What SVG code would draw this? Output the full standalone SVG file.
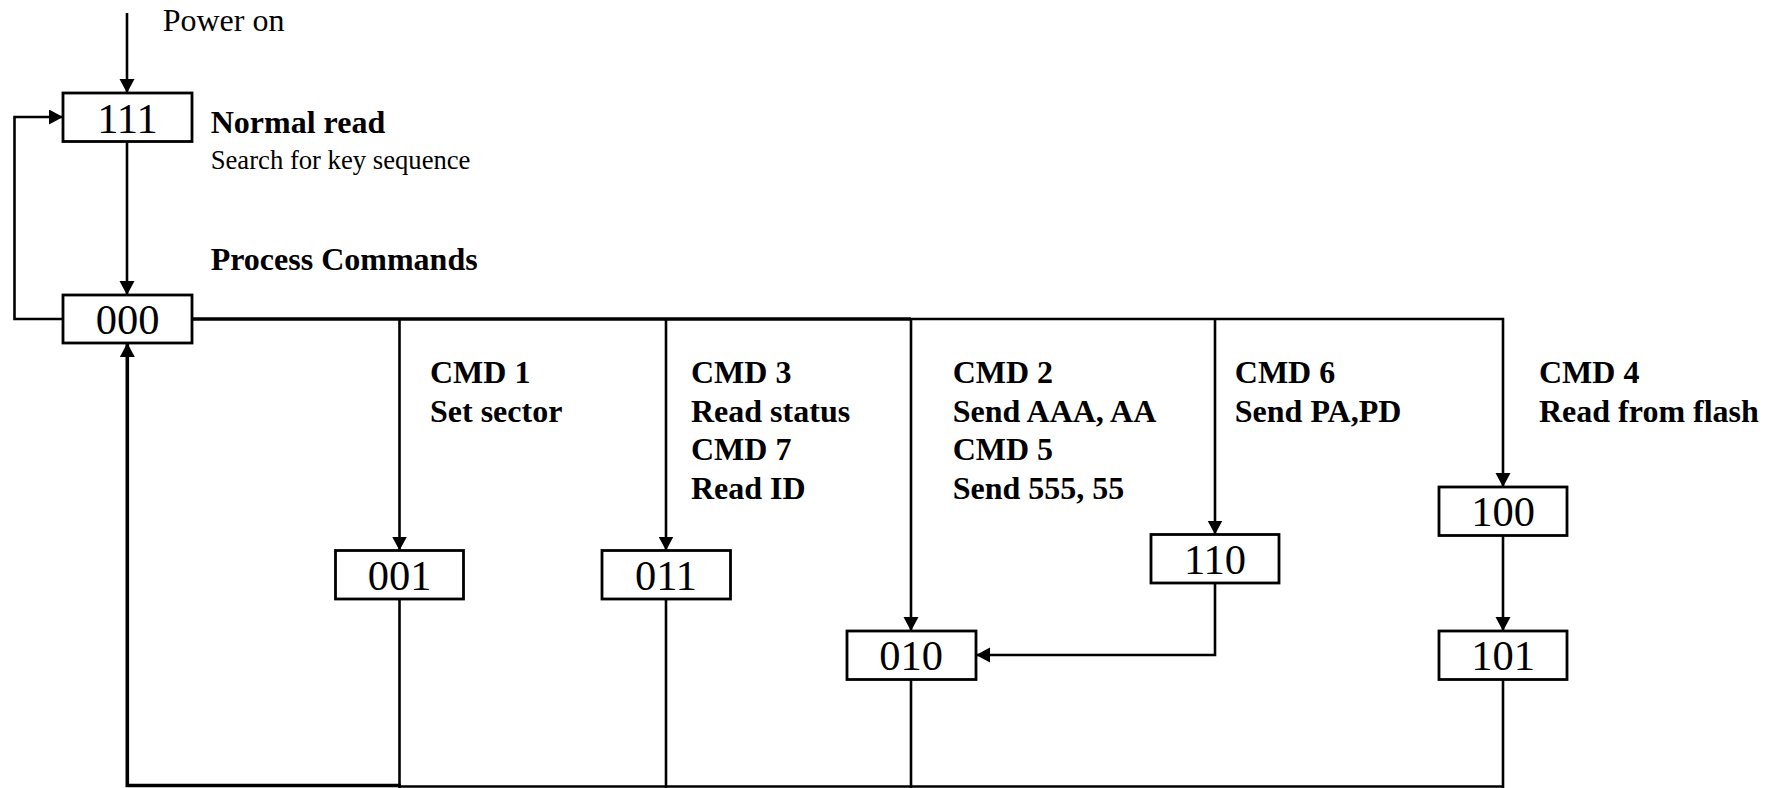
<svg xmlns="http://www.w3.org/2000/svg" width="1776" height="788" viewBox="0 0 1776 788">
<style>
.box{fill:#fff;stroke:#000;stroke-width:2.8}
.st{font-family:"Liberation Serif","Times New Roman",serif;font-size:42.5px;text-anchor:middle;fill:#000}
.lb{font-family:"Liberation Serif","Times New Roman",serif;font-size:32px;font-weight:bold;fill:#000}
.rg{font-family:"Liberation Serif","Times New Roman",serif;fill:#000}
.c{fill:none;stroke:#000;stroke-width:2.6}
.ct{fill:none;stroke:#000;stroke-width:3.6}
</style>
<defs>
<marker id="ah" markerUnits="userSpaceOnUse" markerWidth="16" markerHeight="16" refX="14" refY="7.5" orient="auto">
<path d="M0,0 L14,7.5 L0,15 z" fill="#000"/>
</marker>
</defs>
<g id="connectors">
<line class="c" x1="127" y1="13" x2="127" y2="93" marker-end="url(#ah)"/>
<line class="c" x1="127" y1="141.5" x2="127" y2="295" marker-end="url(#ah)"/>
<polyline class="c" points="63,319 14.5,319 14.5,117 63,117" marker-end="url(#ah)"/>
<line class="ct" x1="192" y1="319" x2="911" y2="319"/>
<polyline class="c" points="911,319 1503,319 1503,487" marker-end="url(#ah)"/>
<line class="c" x1="399.5" y1="319" x2="399.5" y2="550.5" marker-end="url(#ah)"/>
<line class="c" x1="666" y1="319" x2="666" y2="550.5" marker-end="url(#ah)"/>
<line class="c" x1="911" y1="319" x2="911" y2="631" marker-end="url(#ah)"/>
<line class="c" x1="1215" y1="319" x2="1215" y2="534.5" marker-end="url(#ah)"/>
<polyline class="c" points="1215,583 1215,655 976,655" marker-end="url(#ah)"/>
<line class="c" x1="1503" y1="535.5" x2="1503" y2="631" marker-end="url(#ah)"/>
<line class="c" x1="399.5" y1="599" x2="399.5" y2="788"/>
<line class="c" x1="666" y1="599" x2="666" y2="788"/>
<line class="c" x1="911" y1="679.5" x2="911" y2="788"/>
<line class="c" x1="1503" y1="679.5" x2="1503" y2="788"/>
<line class="c" x1="399.5" y1="786.5" x2="1503" y2="786.5"/>
<polyline class="ct" points="401,785.5 127.3,785.5 127.3,343" marker-end="url(#ah)"/>
</g>
<g id="n111">
<rect class="box" x="63" y="93" width="129" height="48.5"/>
<text class="st" x="127.5" y="132.5">111</text>
</g>
<g id="n000">
<rect class="box" x="63" y="295" width="129" height="48"/>
<text class="st" x="127.5" y="334">000</text>
</g>
<g id="n001">
<rect class="box" x="335.5" y="550.5" width="128" height="48.5"/>
<text class="st" x="399.5" y="589.5">001</text>
</g>
<g id="n011">
<rect class="box" x="602" y="550.5" width="128.5" height="48.5"/>
<text class="st" x="666" y="589.5">011</text>
</g>
<g id="n010">
<rect class="box" x="847" y="631" width="129" height="48.5"/>
<text class="st" x="911" y="670">010</text>
</g>
<g id="n110">
<rect class="box" x="1151" y="534.5" width="128" height="48.5"/>
<text class="st" x="1215" y="573.5">110</text>
</g>
<g id="n100">
<rect class="box" x="1439" y="487" width="128" height="48.5"/>
<text class="st" x="1503" y="526">100</text>
</g>
<g id="n101">
<rect class="box" x="1439" y="631" width="128" height="48.5"/>
<text class="st" x="1503" y="670">101</text>
</g>
<g id="labels">
<text class="rg" x="162.7" y="31" font-size="32">Power on</text>
<text class="lb" x="210.7" y="133.3">Normal read</text>
<text class="rg" x="210.7" y="169.3" font-size="26.67">Search for key sequence</text>
<text class="lb" x="210.7" y="270">Process Commands</text>
<text class="lb" x="430" y="383">CMD 1</text>
<text class="lb" x="430" y="421.5">Set sector</text>
<text class="lb" x="691" y="383">CMD 3</text>
<text class="lb" x="691" y="421.5">Read status</text>
<text class="lb" x="691" y="460">CMD 7</text>
<text class="lb" x="691" y="498.5">Read ID</text>
<text class="lb" x="952.7" y="383">CMD 2</text>
<text class="lb" x="952.7" y="421.5">Send AAA, AA</text>
<text class="lb" x="952.7" y="460">CMD 5</text>
<text class="lb" x="952.7" y="498.5">Send 555, 55</text>
<text class="lb" x="1234.8" y="383">CMD 6</text>
<text class="lb" x="1234.8" y="421.5">Send PA,PD</text>
<text class="lb" x="1539" y="383">CMD 4</text>
<text class="lb" x="1539" y="421.5">Read from flash</text>
</g>
</svg>
